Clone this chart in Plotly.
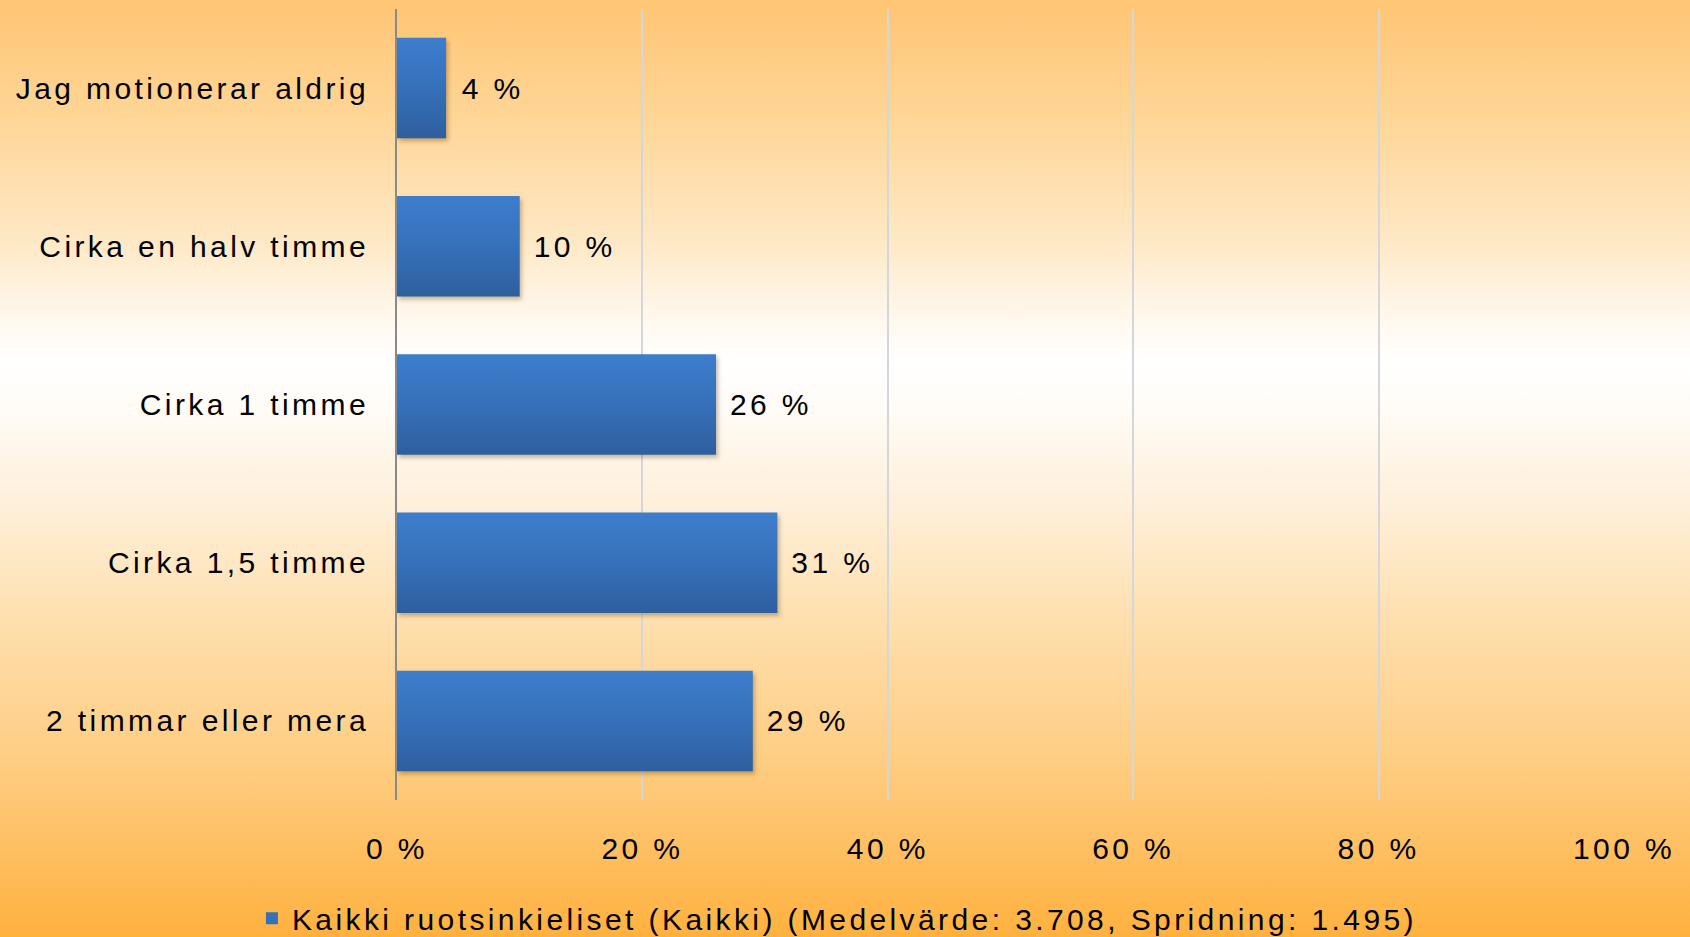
import base64
import plotly.graph_objects as go

categories = ["Jag motionerar aldrig", "Cirka en halv timme", "Cirka 1 timme",
              "Cirka 1,5 timme", "2 timmar eller mera"]
values = [4, 10, 26, 31, 29]
tick_vals = [0, 20, 40, 60, 80, 100]
tick_text = ["0 %", "20 %", "40 %", "60 %", "80 %", "100 %"]
series_name = "Kaikki ruotsinkieliset (Kaikki) (Medelvärde: 3.708, Spridning: 1.495)"

W, H = 1690, 937
ML, MR, MT, MB = 397, 66, 9, 137
PW, PH = W - ML - MR, H - MT - MB

FONT = "Liberation Sans, Arial, sans-serif"

stops = [(0.0, "#FEC574"), (0.12, "#FED595"), (0.25, "#FEE7C2"), (0.34, "#FFF8EE"),
         (0.39, "#FFFFFF"), (0.44, "#FFFBF5"), (0.55, "#FEEED6"), (0.68, "#FEDDA8"),
         (0.80, "#FECF86"), (0.90, "#FEC064"), (1.0, "#FFB13E")]
stop_xml = "".join(f"<stop offset='{o}' stop-color='{c}'/>" for o, c in stops)
svg = (f"<svg xmlns='http://www.w3.org/2000/svg' width='{W}' height='{H}' "
       f"preserveAspectRatio='none' viewBox='0 0 {W} {H}'><defs>"
       f"<linearGradient id='g' x1='0' y1='0' x2='0' y2='1'>{stop_xml}</linearGradient>"
       f"</defs><rect width='{W}' height='{H}' fill='url(#g)'/></svg>")
bg_src = "data:image/svg+xml;base64," + base64.b64encode(svg.encode()).decode()

fig = go.Figure()
fig.add_trace(go.Bar(
    y=categories, x=values, orientation="h", name=series_name,
    marker=dict(color="#3571BA", line=dict(width=0)),
    texttemplate="\u00a0\u2009%{x} %", textposition="outside",
    textfont=dict(family=FONT, size=30, color="#000000"),
    cliponaxis=False, showlegend=True,
))

fig.update_layout(
    width=W, height=H,
    margin=dict(l=ML, r=MR, t=MT, b=MB, pad=0),
    paper_bgcolor="#FED595", plot_bgcolor="rgba(0,0,0,0)",
    font=dict(family=FONT, size=30, color="#000000"),
    bargap=0.365,
    showlegend=True,
    legend=dict(orientation="h", xref="container", yref="container",
                x=0.426, y=0.02, xanchor="center", yanchor="middle",
                itemwidth=30,
                font=dict(family=FONT, size=30, color="#000000"),
                bgcolor="rgba(0,0,0,0)"),
    images=[dict(source=bg_src, xref="paper", yref="paper",
                 x=-ML / PW, y=1 + MT / PH, sizex=W / PW, sizey=H / PH,
                 xanchor="left", yanchor="top", sizing="stretch", layer="below")],
)
fig.update_xaxes(range=[0, 100], tickvals=tick_vals, ticktext=tick_text,
                 showgrid=True, gridcolor="#D3D6DA", gridwidth=1.5,
                 zeroline=False, showline=False, ticks="",
                 ticklabelstandoff=28,
                 tickfont=dict(family=FONT, size=30, color="#000000"))
fig.update_yaxes(categoryorder="array", categoryarray=categories, autorange="reversed",
                 showgrid=False, zeroline=False, showline=True, linecolor="#8A8A8A",
                 linewidth=2, ticks="", ticklabelstandoff=20,
                 tickfont=dict(family=FONT, size=30, color="#000000"))

post = (
    "var s=document.createElement('style');"
    "s.textContent='svg text{letter-spacing:3.4px;} body{margin:0;} "
    ".legend .scrollbox{clip-path:none !important;} "
    ".legend{clip-path:none !important;} "
    ".trace.bars .point path{fill:url(#bargrad) !important;"
    "filter:drop-shadow(2px 3px 2px rgba(90,60,20,0.35));}';"
    "document.head.appendChild(s);"
    "var d=document.createElement('div');"
    "d.style.cssText='position:absolute;width:0;height:0;overflow:hidden;';"
    "d.innerHTML=\"<svg width='0' height='0'><defs><linearGradient id='bargrad' x1='0' y1='0' x2='0' y2='1'>"
    "<stop offset='0' stop-color='#3D7ECD'/><stop offset='0.5' stop-color='#3670BA'/>"
    "<stop offset='1' stop-color='#2E5F9E'/></linearGradient></defs></svg>\";"
    "document.body.appendChild(d);"
)
fig.write_html("out.html", post_script=post, config={"displayModeBar": False})
